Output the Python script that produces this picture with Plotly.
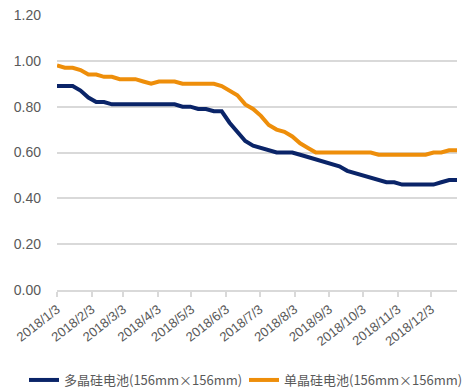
import pandas as pd
import plotly.graph_objects as go

# Weekly price series (yuan/W), starting 2018-01-03
dates = pd.date_range("2018-01-03", periods=52, freq="7D")

poly_cell = [
    0.89, 0.89, 0.89, 0.87, 0.84, 0.82, 0.82, 0.81, 0.81, 0.81,
    0.81, 0.81, 0.81, 0.81, 0.81, 0.81, 0.80, 0.80, 0.79, 0.79,
    0.78, 0.78, 0.73, 0.69, 0.65, 0.63, 0.62, 0.61, 0.60, 0.60,
    0.60, 0.59, 0.58, 0.57, 0.56, 0.55, 0.54, 0.52, 0.51, 0.50,
    0.49, 0.48, 0.47, 0.47, 0.46, 0.46, 0.46, 0.46, 0.46, 0.47,
    0.48, 0.48,
]
mono_cell = [
    0.98, 0.97, 0.97, 0.96, 0.94, 0.94, 0.93, 0.93, 0.92, 0.92,
    0.92, 0.91, 0.90, 0.91, 0.91, 0.91, 0.90, 0.90, 0.90, 0.90,
    0.90, 0.89, 0.87, 0.85, 0.81, 0.79, 0.76, 0.72, 0.70, 0.69,
    0.67, 0.64, 0.62, 0.60, 0.60, 0.60, 0.60, 0.60, 0.60, 0.60,
    0.60, 0.59, 0.59, 0.59, 0.59, 0.59, 0.59, 0.59, 0.60, 0.60,
    0.61, 0.61,
]

series_names = ["多晶硅电池(156mm×156mm)", "单晶硅电池(156mm×156mm)"]
series_colors = ["#0A2468", "#EE8E0A"]

# Monthly ticks on the 3rd of each month
tick_dates = pd.date_range("2018-01-01", periods=12, freq="MS") + pd.Timedelta(days=2)
tick_labels = [f"{d.year}/{d.month}/{d.day}" for d in tick_dates]

W, H = 462, 389
grid_color = "#D9D9D9"
text_color = "#595959"

fig = go.Figure()
legend_ids = ["legend", "legend2"]
for name, values, color, lg in zip(series_names, [poly_cell, mono_cell],
                                   series_colors, legend_ids):
    fig.add_trace(go.Scatter(
        x=dates, y=values, name=name, mode="lines",
        line=dict(color=color, width=4), legend=lg,
    ))

# one single-entry legend per series, side by side under the axis
legend_style = dict(
    orientation="h", xref="container", yref="container",
    xanchor="left", y=9 / H, yanchor="middle",
    font=dict(family="Noto Sans CJK SC", size=13, color=text_color),
    itemwidth=30, bgcolor="rgba(0,0,0,0)",
)

fig.update_layout(
    width=W, height=H,
    margin=dict(l=57, r=5, t=15, b=99),
    paper_bgcolor="white", plot_bgcolor="white",
    font=dict(family="Arial", color=text_color),
    showlegend=True,
    legend=dict(x=24 / W, **legend_style),
    legend2=dict(x=244 / W, **legend_style),
    xaxis=dict(
        range=[dates[0], dates[-1]],
        tickvals=tick_dates, ticktext=tick_labels,
        tickangle=-38, tickfont=dict(size=13, color=text_color),
        showgrid=False, showline=True, linecolor=grid_color, linewidth=1.5,
        ticks="outside", ticklen=5, tickcolor=grid_color, tickwidth=1.5,
        automargin=False,
    ),
    yaxis=dict(
        range=[0, 1.2], dtick=0.2, tickformat=".2f",
        tickfont=dict(size=14, color=text_color),
        showgrid=True, gridcolor=grid_color, gridwidth=1.5,
        zeroline=False, showline=False, ticks="", ticklabelstandoff=15,
        automargin=False,
    ),
)

fig.write_html("out.html")
